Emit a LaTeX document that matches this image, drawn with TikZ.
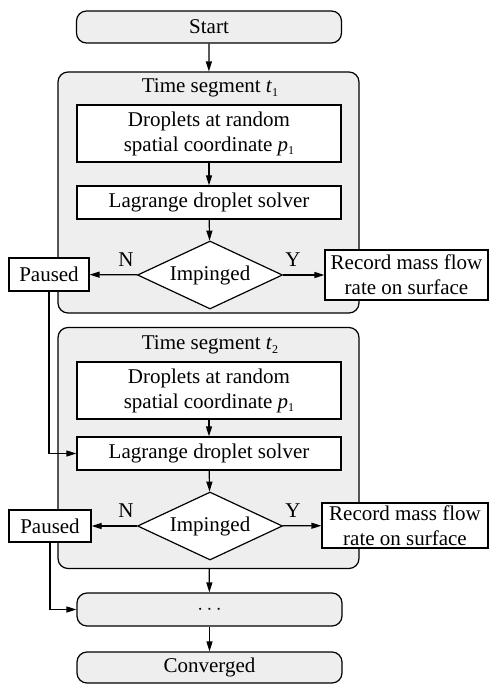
\documentclass[tikz,border=0pt]{standalone}
\usepackage{fontspec}
\setmainfont{Liberation Serif}
\usetikzlibrary{shapes.geometric,arrows.meta}
\definecolor{boxgray}{RGB}{238,238,238}
\begin{document}
\begin{tikzpicture}[x=1pt,y=-1pt,
  every node/.style={font=\fontsize{21}{25}\selectfont},
  lw/.style={line width=1.2pt},
  term/.style={lw,draw,rounded corners=10pt,fill=boxgray,minimum width=265pt,minimum height=32pt,inner sep=0pt},
  segbox/.style={lw,draw,rounded corners=10pt,fill=boxgray,minimum width=301pt,minimum height=241pt,inner sep=0pt},
  procbox/.style={lw,draw,fill=white,minimum width=264pt,inner sep=0pt,align=center},
  sidebox/.style={lw,draw,fill=white,inner sep=0pt,align=center},
  decis/.style={lw,draw,diamond,fill=white,shape aspect=2.1,inner sep=0pt,minimum width=145pt,minimum height=68pt},
  arr/.style={lw,-{Triangle[length=10pt,width=6pt]}}]
\useasboundingbox (0,0) rectangle (489,684);
% segment boxes
\node[segbox] (seg1) at (208.5,192.5) {};
\node[segbox] (seg2) at (208.5,448) {};
\node (lab1) at (210,88) {Time segment \textit{t}\raisebox{-0.35ex}{\fontsize{12}{12}\selectfont 1}};
\node (lab2) at (210,345) {Time segment \textit{t}\raisebox{-0.35ex}{\fontsize{12}{12}\selectfont 2}};
% top
\node[term] (start) at (209,27) {Start};
% segment 1
\node[procbox,minimum height=57pt] (drop1) at (209,133.5) {Droplets at random\\spatial coordinate \textit{p}\raisebox{-0.35ex}{\fontsize{12}{12}\selectfont 1}};
\node[procbox,minimum height=33pt] (lag1) at (209,202.5) {Lagrange droplet solver};
\node[decis] (dec1) at (210,275) {Impinged};
\node[sidebox,minimum width=80pt,minimum height=33pt] (pau1) at (49,274.5) {Paused};
\node[sidebox,minimum width=163pt,minimum height=50pt] (rec1) at (406.5,275) {Record mass flow\\rate on surface};
\node (n1) at (126,260) {N};
\node (y1) at (293,260) {Y};
% segment 2
\node[procbox,minimum height=57pt] (drop2) at (209,390.5) {Droplets at random\\spatial coordinate \textit{p}\raisebox{-0.35ex}{\fontsize{12}{12}\selectfont 1}};
\node[procbox,minimum height=33pt] (lag2) at (209,453.5) {Lagrange droplet solver};
\node[decis] (dec2) at (210,526) {Impinged};
\node[sidebox,minimum width=82pt,minimum height=32pt] (pau2) at (50,526) {Paused};
\node[sidebox,minimum width=166pt,minimum height=45pt] (rec2) at (405,525.5) {Record mass flow\\rate on surface};
\node (n2) at (126,511) {N};
\node (y2) at (293,511) {Y};
% bottom
\node[term,minimum height=33pt] (dots) at (209.5,609.5) {$\cdots$};
\node[term,minimum height=31pt] (conv) at (209.5,667.5) {Converged};
% connectors
\draw[arr] (start) -- (seg1);
\draw[arr] (drop1) -- (lag1);
\draw[arr] (lag1) -- (dec1);
\draw[arr] (dec1) -- (pau1);
\draw[arr] (dec1) -- (rec1);
\draw[arr] (pau1.south) |- (lag2.west);
\draw[arr] (drop2) -- (lag2);
\draw[arr] (lag2) -- (dec2);
\draw[arr] (dec2) -- (pau2);
\draw[arr] (dec2) -- (rec2);
\draw[arr] (seg2) -- (dots);
\draw[arr] (pau2.south) |- (dots.west);
\draw[arr] (dots) -- (conv);
\end{tikzpicture}
\end{document}
